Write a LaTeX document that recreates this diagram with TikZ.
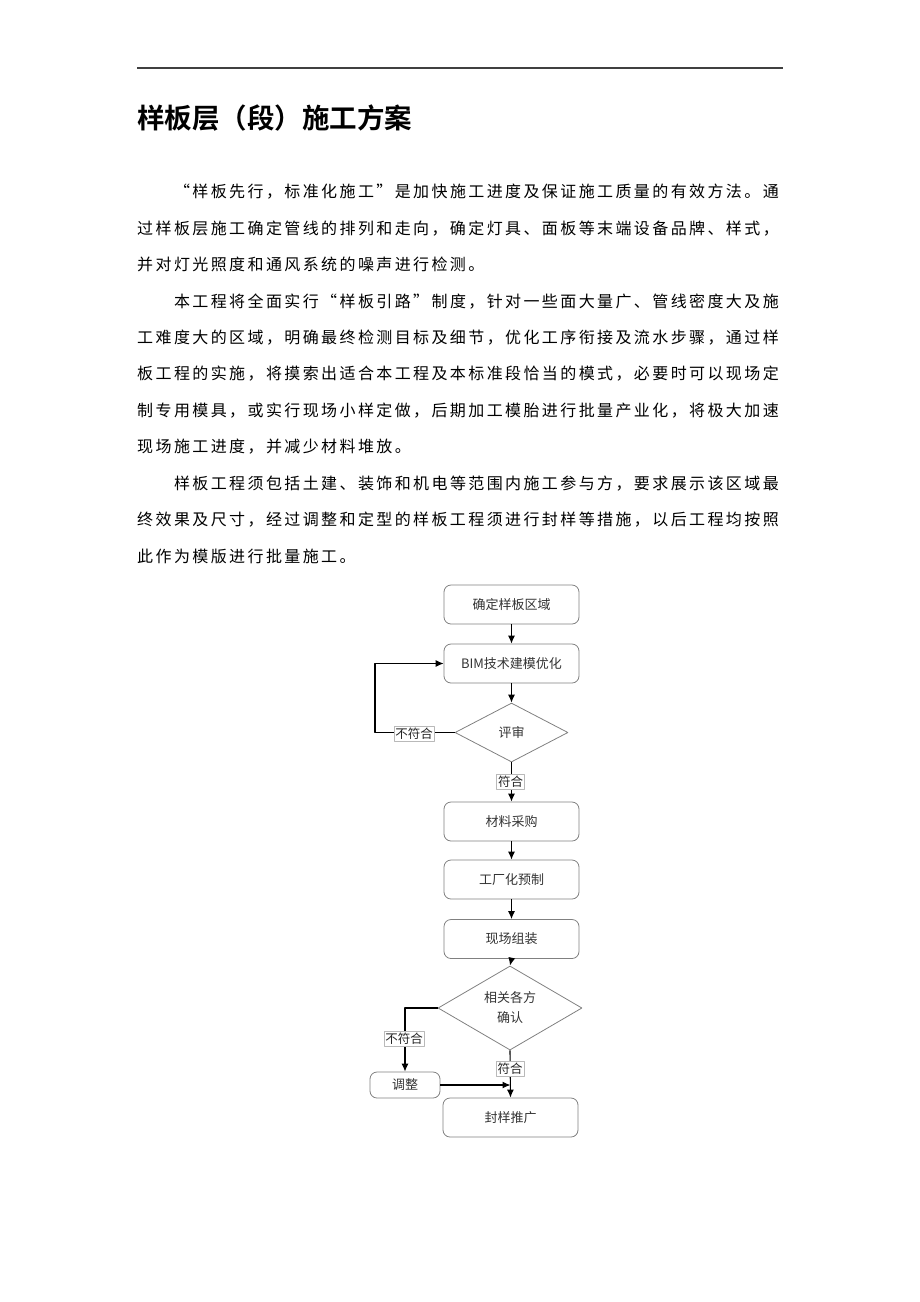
\documentclass[tikz,border=0pt]{standalone}
\usepackage{fontspec}
\setmainfont{Noto Sans CJK SC}[BoldFont={Noto Sans CJK SC Bold}]
\newfontfamily\bodyfont{Noto Sans CJK SC}[LetterSpace=15]
\usetikzlibrary{shapes,arrows,arrows.meta,positioning,calc}

\tikzset{
  bodyline/.style={anchor=west,inner sep=0pt,font=\bodyfont\fontsize{16}{16}\selectfont},
  stepbox/.style={draw=gray,line width=0.8pt,rounded corners=7pt,minimum width=135pt,minimum height=39pt,
    inner sep=0pt,text=black!80,font=\fontsize{13}{15}\selectfont},
  checkbox/.style={diamond,draw=gray,line width=0.8pt,inner sep=0pt,text=black!80,align=center,
    font=\fontsize{13}{20}\selectfont},
  tag/.style={draw=gray!55,fill=white,line width=0.5pt,inner sep=1.5pt,text=black!85,
    font=\fontsize{12.5}{13}\selectfont},
  flow/.style={->,line width=1.1pt,black},
}

\begin{document}
\begin{tikzpicture}[>={Latex[length=8pt,width=7pt]},line join=bevel,x=1pt,y=-1pt]
\useasboundingbox (0,0) rectangle (920,1302);
 \draw [line width=2pt,black!75] (137,68) -- (783,68);
 \node [anchor=west,inner sep=0pt,font=\bfseries\fontsize{27.5}{28}\selectfont] (title) at (137,118) {样板层（段）施工方案};

 \node [bodyline] (line1) at (173.8,192) {“样板先行，标准化施工”是加快施工进度及保证施工质量的有效方法。通};
 \node [bodyline] (line2) at (137,228.4) {过样板层施工确定管线的排列和走向，确定灯具、面板等末端设备品牌、样式，};
 \node [bodyline] (line3) at (137,264.8) {并对灯光照度和通风系统的噪声进行检测。};
 \node [bodyline] (line4) at (173.8,301.2) {本工程将全面实行“样板引路”制度，针对一些面大量广、管线密度大及施};
 \node [bodyline] (line5) at (137,337.6) {工难度大的区域，明确最终检测目标及细节，优化工序衔接及流水步骤，通过样};
 \node [bodyline] (line6) at (137,374) {板工程的实施，将摸索出适合本工程及本标准段恰当的模式，必要时可以现场定};
 \node [bodyline] (line7) at (137,410.4) {制专用模具，或实行现场小样定做，后期加工模胎进行批量产业化，将极大加速};
 \node [bodyline] (line8) at (137,446.8) {现场施工进度，并减少材料堆放。};
 \node [bodyline] (line9) at (173.8,483.2) {样板工程须包括土建、装饰和机电等范围内施工参与方，要求展示该区域最};
 \node [bodyline] (line10) at (137,519.6) {终效果及尺寸，经过调整和定型的样板工程须进行封样等措施，以后工程均按照};
 \node [bodyline] (line11) at (137,556) {此作为模版进行批量施工。};

 \node [stepbox] (area) at (511.5,604.5) {确定样板区域};
 \node [stepbox] (bim) at (511.5,663.5) {BIM技术建模优化};
 \node [checkbox,minimum width=113pt,minimum height=59pt] (review) at (511.5,732.5) {评审};
 \node [stepbox] (buy) at (511.5,821.5) {材料采购};
 \node [stepbox] (prefab) at (511.5,879.5) {工厂化预制};
 \node [stepbox] (site) at (511.5,939) {\raisebox{-6pt}{现场组装}};
 \node [checkbox,minimum width=144pt,minimum height=59pt] (confirm) at (510,1008) {相关各方\\确认};
 \node [stepbox,minimum width=70pt,minimum height=26pt] (adjust) at (405,1085) {调整};
 \node [stepbox] (seal) at (510.5,1117.5) {封样推广};

 \coordinate (loop) at (375,663.5);
 \coordinate (join) at (seal.north |- adjust.east);

 \draw [flow] (area) -- (bim);
 \draw [flow] (bim) -- (review);
 \draw [flow] (review.west) -| (loop) -- (bim.west);
 \draw [flow] (review) -- (buy);
 \draw [flow] (buy) -- (prefab);
 \draw [flow] (prefab) -- (site);
 \draw [flow] (site.south) -- (confirm.north);
 \draw [flow] (confirm.west) -| (adjust.north);
 \draw [flow] (confirm.south) -- (seal.north);
 \draw [flow] (adjust.east) -- (join);

 \node [tag] (no1) at (414,734) {不符合};
 \node [tag] (yes1) at (510.5,781.5) {符合};
 \node [tag] (no2) at (404,1039) {不符合};
 \node [tag] (yes2) at (510,1068.5) {符合};
\end{tikzpicture}
\end{document}
